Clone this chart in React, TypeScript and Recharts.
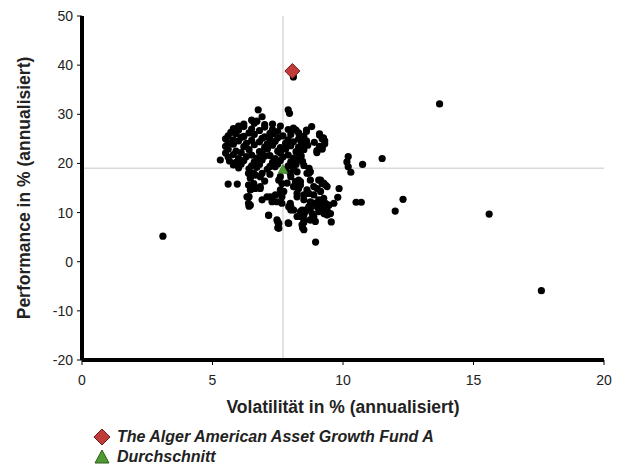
import React from 'react';
import { ScatterChart, Scatter, XAxis, YAxis, ReferenceLine } from 'recharts';

const xTicks = [0, 5, 10, 15, 20];
const yTicks = [-20, -10, 0, 10, 20, 30, 40, 50];
const xTitle = 'Volatilität in % (annualisiert)';
const yTitle = 'Performance in % (annualisiert)';
const fundName = 'The Alger American Asset Growth Fund A';
const averageName = 'Durchschnitt';

const fundPoint = [{ x: 8.06, y: 38.8 }];
const averagePoint = [{ x: 7.7, y: 19.0 }];

// outliers and edge points of the peer group
const peerOutliers: [number, number][] = [
  [3.1, 5.2], [13.7, 32.1], [15.6, 9.7], [17.6, -5.9], [11.5, 21.0], [10.75, 19.8],
  [10.2, 21.4], [10.15, 20.3], [10.2, 19.3], [10.3, 18.2], [12.3, 12.7], [12.0, 10.3],
  [10.5, 12.1], [10.7, 12.1], [9.85, 14.9], [9.8, 13.1], [9.55, 8.1], [8.95, 4.0],
  [8.1, 37.6], [7.9, 30.9], [7.95, 30.2], [6.75, 30.9], [6.9, 29.5], [6.6, 28.2],
  [6.7, 28.6], [5.3, 20.7], [5.6, 15.8], [5.95, 15.8], [6.4, 11.3], [6.4, 13.2],
  [7.15, 9.4], [7.5, 8.1], [7.5, 6.9], [7.9, 7.9], [8.45, 6.9], [8.5, 8.0],
  [8.8, 27.5], [9.1, 26.0], [9.2, 25.0], [9.3, 24.0], [9.2, 23.2], [9.0, 22.6],
  [8.4, 24.4], [8.4, 22.7], [8.35, 21.4], [8.45, 20.4], [8.7, 19.0], [8.75, 18.3],
  [8.2, 26.8], [8.6, 26.5], [6.2, 28.0], [6.5, 28.8], [7.3, 28.0], [7.0, 27.9], [6.0, 27.6],
];

// dense upper part of the peer cluster
const peerUpper: [number, number][] = [
  [5.8, 27.1], [6.2, 27.5], [6.5, 27.0], [7.0, 27.4], [7.3, 26.9], [7.6, 27.6], [8.1, 27.2],
  [5.7, 26.3], [6.0, 26.8], [6.4, 26.2], [6.8, 26.7], [7.2, 26.1], [7.5, 26.5], [7.9, 26.9], [8.3, 26.2], [8.6, 26.8],
  [5.6, 25.6], [5.9, 26.1], [6.2, 25.5], [6.6, 25.9], [7.0, 25.4], [7.3, 26.0], [7.7, 25.6], [8.0, 25.9], [8.5, 25.5], [9.1, 25.8],
  [5.5, 25.0], [5.8, 24.8], [6.1, 25.3], [6.5, 24.7], [6.9, 25.1], [7.2, 24.9], [7.5, 25.2], [7.9, 24.8], [8.3, 25.0], [8.6, 24.6], [9.25, 25.2],
  [5.6, 24.2], [6.0, 24.6], [6.3, 24.1], [6.8, 24.4], [7.1, 24.0], [7.4, 24.5], [7.8, 24.1], [8.1, 24.4], [8.45, 23.9], [8.9, 24.3], [9.3, 24.6],
  [5.5, 23.5], [5.8, 23.9], [6.2, 23.4], [6.6, 23.8], [7.0, 23.3], [7.3, 23.7], [7.6, 23.2], [8.0, 23.6], [8.3, 23.3], [8.65, 23.7], [9.1, 23.5],
  [5.6, 22.9], [5.9, 22.5], [6.4, 22.8], [6.8, 22.4], [7.1, 22.9], [7.5, 22.5], [7.8, 22.9], [8.2, 22.4], [8.5, 22.8], [9.2, 22.9],
  [5.5, 22.1], [5.8, 21.8], [6.1, 22.2], [6.5, 21.7], [6.9, 22.0], [7.2, 21.6], [7.6, 22.1], [7.9, 21.7], [8.3, 22.0], [9.0, 22.2],
  [5.6, 21.3], [6.0, 21.0], [6.3, 21.4], [6.7, 21.1], [7.0, 21.5], [7.4, 21.0], [7.7, 21.3], [8.1, 21.1], [8.4, 21.5],
  [5.65, 20.5], [5.9, 20.2], [6.2, 20.6], [6.6, 20.3], [6.9, 20.7], [7.3, 20.2], [7.6, 20.6], [8.0, 20.3], [8.3, 20.7],
  [5.8, 19.7], [6.1, 19.9], [6.5, 19.5], [6.8, 19.8], [7.2, 19.4], [7.5, 19.9], [7.9, 19.5], [8.2, 19.8], [8.5, 19.6],
  [6.0, 19.1], [6.4, 18.9], [6.7, 19.2], [7.1, 18.8], [7.4, 19.3], [7.8, 18.7], [8.1, 19.0],
];

// lower part of the peer cluster
const peerLower: [number, number][] = [
  [6.58, 18.0], [6.83, 17.3], [6.45, 17.0], [7.98, 18.0], [8.24, 18.3], [8.62, 18.0], [8.75, 16.6], [7.6, 17.3],
  [6.45, 15.3], [6.64, 14.9], [6.83, 15.3], [7.86, 16.0], [8.11, 15.3], [8.37, 16.3], [8.62, 14.6], [8.88, 15.3],
  [9.14, 16.6], [9.26, 16.0], [9.39, 15.3],
  [6.38, 13.2], [7.09, 13.2], [7.28, 12.9], [7.47, 12.2], [7.66, 13.2], [7.98, 11.9], [8.24, 13.2], [8.5, 12.6],
  [8.75, 12.2], [8.88, 11.9], [9.07, 12.6], [9.26, 12.9], [9.46, 11.5], [9.65, 11.9],
  [7.92, 11.2], [8.11, 10.5], [8.37, 10.2], [8.56, 10.5], [8.75, 10.9], [9.01, 11.2], [9.2, 10.9], [9.39, 10.5],
  [9.39, 9.5], [8.88, 9.2], [8.5, 9.5], [8.24, 9.2], [8.75, 8.5], [8.94, 8.2],
  [6.38, 15.6], [6.58, 15.9], [6.83, 14.9], [6.45, 14.6], [6.32, 13.2], [6.38, 11.9], [6.45, 11.5],
  [6.38, 18.0], [6.64, 17.6], [6.9, 18.0], [7.22, 13.2], [7.41, 13.6], [7.6, 13.9], [7.28, 12.2], [7.66, 11.9],
  [8.0, 11.2], [8.0, 10.5], [7.15, 9.5], [7.47, 8.5], [7.54, 7.8], [7.54, 6.8], [7.92, 7.8],
  [8.0, 17.3], [8.18, 16.3], [8.11, 15.3], [8.3, 14.9], [7.54, 16.6], [7.66, 15.9], [7.6, 14.6], [7.73, 14.3],
  [8.3, 16.6], [8.37, 15.6], [8.69, 18.0], [9.07, 16.6], [9.2, 15.9], [9.33, 15.6], [9.01, 14.9], [9.14, 14.3],
  [8.88, 13.6], [8.69, 13.9], [8.5, 13.6], [8.24, 13.9], [8.43, 10.5], [8.56, 10.2], [8.3, 9.2], [8.5, 8.5],
  [8.75, 8.5], [8.69, 11.2], [8.88, 11.9], [9.14, 12.2], [9.33, 11.9], [9.52, 9.8], [9.27, 9.8], [9.07, 10.2],
  [8.82, 9.8], [8.43, 7.5], [8.5, 6.5], [7.2, 17.8], [7.0, 16.4], [6.9, 12.6],
];

const peerPoints = [...peerOutliers, ...peerUpper, ...peerLower].map(([x, y]) => ({ x, y }));

const FONT = '"Liberation Sans", Arial, Helvetica, sans-serif';
const TEXT = '#222';
const RED = '#c23b3b';
const RED_EDGE = '#6e1c1c';
const GREEN = '#4f9a33';
const GREEN_EDGE = '#2c5e1c';

const PeerDot = (props: any) => <circle cx={props.cx} cy={props.cy} r={3.6} fill="#000" />;

const DiamondShape = (props: any) => {
  const { cx, cy } = props;
  const s = 7.5;
  return (
    <polygon
      points={`${cx},${cy - s} ${cx + s},${cy} ${cx},${cy + s} ${cx - s},${cy}`}
      fill={RED}
      stroke={RED_EDGE}
      strokeWidth={1}
    />
  );
};

const TriangleShape = (props: any) => {
  const { cx, cy } = props;
  return (
    <polygon
      points={`${cx},${cy - 4} ${cx + 5},${cy + 5} ${cx - 5},${cy + 5}`}
      fill={GREEN}
      stroke={GREEN_EDGE}
      strokeWidth={0.5}
    />
  );
};

const XTitle = (props: any) => {
  const vb = props.viewBox || {};
  return (
    <text
      x={vb.x + vb.width / 2}
      y={vb.y + 53}
      textAnchor="middle"
      fontFamily={FONT}
      fontSize={17.5}
      fontWeight="bold"
      fill={TEXT}
    >
      {xTitle}
    </text>
  );
};

const YTitle = (props: any) => {
  const vb = props.viewBox || {};
  const cx = vb.x + 16;
  const cy = vb.y + vb.height / 2;
  return (
    <text
      x={cx}
      y={cy}
      transform={`rotate(-90 ${cx} ${cy})`}
      textAnchor="middle"
      dominantBaseline="central"
      fontFamily={FONT}
      fontSize={17.5}
      fontWeight="bold"
      fill={TEXT}
    >
      {yTitle}
    </text>
  );
};

const tickStyle = { fill: TEXT, fontSize: 14, fontFamily: FONT };

export default function App() {
  return (
    <div style={{ position: 'relative', width: 617, height: 458 }}>
      <ScatterChart width={617} height={420} margin={{ top: 8, right: 21, bottom: 0, left: 0 }}>
        <XAxis
          type="number"
          dataKey="x"
          domain={[0, 20]}
          ticks={xTicks}
          interval={0}
          allowDataOverflow
          height={68}
          axisLine={{ stroke: '#000', strokeWidth: 4 }}
          tickLine={{ stroke: '#000', strokeWidth: 1 }}
          tickSize={5}
          tickMargin={10}
          tick={tickStyle}
          label={<XTitle />}
        />
        <YAxis
          type="number"
          dataKey="y"
          domain={[-20, 50]}
          ticks={yTicks}
          interval={0}
          allowDataOverflow
          width={74}
          axisLine={{ stroke: '#000', strokeWidth: 4 }}
          tickLine={{ stroke: '#000', strokeWidth: 1 }}
          tickSize={5}
          tickMargin={4}
          tick={tickStyle}
          label={<YTitle />}
        />
        <ReferenceLine x={averagePoint[0].x} stroke="#d9d9d9" strokeWidth={1.5} />
        <ReferenceLine y={averagePoint[0].y} stroke="#d9d9d9" strokeWidth={1.5} />
        <Scatter name="Peers" data={peerPoints} shape={PeerDot} isAnimationActive={false} />
        <Scatter name={averageName} data={averagePoint} shape={TriangleShape} isAnimationActive={false} />
        <Scatter name={fundName} data={fundPoint} shape={DiamondShape} isAnimationActive={false} />
      </ScatterChart>
      <div
        style={{
          position: 'absolute',
          left: 85,
          top: 419,
          fontFamily: FONT,
          fontSize: 16,
          fontStyle: 'italic',
          fontWeight: 'bold',
          color: TEXT,
          lineHeight: '20px',
        }}
      >
        <div style={{ display: 'flex', alignItems: 'center', height: 20 }}>
          <svg width={18} height={18} style={{ marginRight: 6 }}>
            <polygon points="9,1 17,9 9,17 1,9" fill={RED} stroke={RED_EDGE} strokeWidth={1} />
          </svg>
          <span>{fundName}</span>
        </div>
        <div style={{ display: 'flex', alignItems: 'center', height: 20 }}>
          <svg width={18} height={18} style={{ marginRight: 6 }}>
            <polygon points="9,2 16,15 2,15" fill={GREEN} stroke={GREEN_EDGE} strokeWidth={1} />
          </svg>
          <span>{averageName}</span>
        </div>
      </div>
    </div>
  );
}
